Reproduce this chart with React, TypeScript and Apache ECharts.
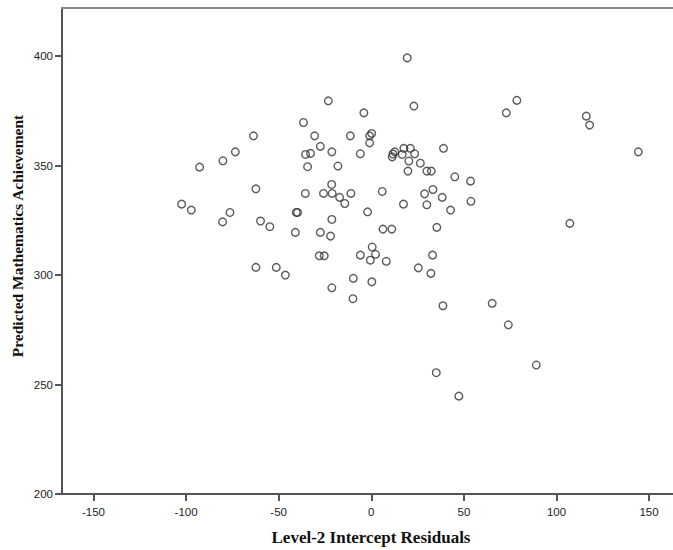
import React, { useEffect, useRef } from "react";
import * as echarts from "echarts";

// Level-2 intercept residuals (x) and predicted mathematics achievement (y)
const residuals: number[] = [
  -23.2, -4.0, -36.6, -63.6, -30.6, -11.3, -0.9, 0.2, -0.9, -27.5,
  -73.4, -35.5, -32.8, -21.3, -5.9, -80.1, -92.7, -34.4, -18.0, -62.3,
  -21.4, -35.6, -25.8, -21.1, -17.1, -11.0, -14.3, -102.4, -97.2, -76.3,
  -40.5, -39.8, -2.0, -80.3, -59.8, -54.8, -21.3, -41.0, -27.5, -22.0,
  -28.1, -25.4, -5.9, 0.5, 2.3, -0.5, -62.3, -51.3, -46.4, -9.7,
  0.3, -21.3, -9.9,
  19.4, 23.0, 72.9, 78.6, 116.1, 117.9, 144.2, 39.0, 11.7, 12.7,
  11.3, 16.7, 17.6, 21.1, 23.4, 20.3, 26.5, 19.8, 30.0, 32.4,
  45.1, 53.6, 5.9, 28.8, 33.3, 38.3, 53.8, 17.4, 30.0, 42.8,
  107.2, 6.3, 11.1, 35.4, 8.1, 33.1, 25.4, 32.2, 38.7, 65.3,
  74.0, 89.1, 35.1, 47.3,
];

const achievement: number[] = [
  379.6, 374.1, 369.7, 363.6, 363.6, 363.6, 363.6, 364.7, 360.4, 358.8,
  356.3, 355.1, 355.6, 356.3, 355.4, 352.2, 349.3, 349.5, 349.8, 339.4,
  341.4, 337.3, 337.3, 337.3, 335.5, 337.3, 332.7, 332.4, 329.7, 328.6,
  328.6, 328.6, 328.9, 324.3, 324.7, 322.1, 325.4, 319.5, 319.5, 317.8,
  308.8, 308.8, 309.1, 312.8, 309.5, 306.8, 303.5, 303.5, 300.0, 298.5,
  296.9, 294.2, 289.2,
  399.2, 377.2, 374.1, 379.8, 372.6, 368.5, 356.3, 357.9, 355.3, 356.3,
  354.0, 355.1, 357.9, 357.9, 355.4, 352.1, 351.1, 347.5, 347.5, 347.5,
  344.9, 342.9, 338.2, 337.1, 339.1, 335.5, 333.7, 332.4, 332.1, 329.7,
  323.6, 321.0, 321.0, 321.8, 306.3, 309.1, 303.3, 300.8, 286.0, 287.1,
  277.3, 258.9, 255.4, 244.7,
];

const xTicks: number[] = [-150, -100, -50, 0, 50, 100, 150];
const yTicks: number[] = [200, 250, 300, 350, 400];

const xTitle = "Level-2 Intercept Residuals";
const yTitle = "Predicted Mathematics Achievement";

export default function App() {
  const ref = useRef<HTMLDivElement>(null);

  useEffect(() => {
    if (!ref.current) return;
    const chart = echarts.init(ref.current, null, { renderer: "svg" });
    const data = residuals.map((x, i) => [x, achievement[i]]);
    const axisColor = "#555555";
    const labelStyle = {
      color: "#222",
      fontFamily: "Liberation Sans, Arial, sans-serif",
      fontSize: 11.5,
    };
    const titleFont = "Liberation Serif, Times New Roman, serif";
    chart.setOption({
      animation: false,
      backgroundColor: "#ffffff",
      grid: {
        left: 62,
        top: 8,
        width: 618,
        bottom: 56,
        containLabel: false,
        outerBoundsMode: "none",
      },
      xAxis: [
        {
          type: "value",
          min: -167,
          max: 166.7,
          axisLine: { show: true, onZero: false, lineStyle: { color: axisColor, width: 2 } },
          axisTick: {
            show: true,
            length: 7,
            customValues: xTicks,
            lineStyle: { color: axisColor, width: 2 },
          },
          axisLabel: { ...labelStyle, margin: 12, customValues: xTicks },
          splitLine: { show: false },
        },
        {
          type: "value",
          position: "top",
          min: -167,
          max: 166.7,
          axisLine: { show: true, onZero: false, lineStyle: { color: "#858585", width: 2 } },
          axisTick: { show: false },
          axisLabel: { show: false },
          splitLine: { show: false },
        },
      ],
      yAxis: {
        type: "value",
        min: 200,
        max: 422,
        axisLine: { show: true, onZero: false, lineStyle: { color: axisColor, width: 2 } },
        axisTick: {
          show: true,
          length: 7,
          customValues: yTicks,
          lineStyle: { color: axisColor, width: 2 },
        },
        axisLabel: { ...labelStyle, margin: 9, customValues: yTicks },
        splitLine: { show: false },
      },
      graphic: [
        {
          type: "text",
          x: 371,
          y: 537,
          style: {
            text: xTitle,
            fill: "#111",
            font: `bold 17px ${titleFont}`,
            textAlign: "center",
            textVerticalAlign: "middle",
          },
        },
        {
          type: "text",
          x: 17,
          y: 236,
          rotation: Math.PI / 2,
          style: {
            text: yTitle,
            fill: "#111",
            font: `bold 15.5px ${titleFont}`,
            textAlign: "center",
            textVerticalAlign: "middle",
          },
        },
      ],
      series: [
        {
          type: "scatter",
          xAxisIndex: 0,
          data,
          symbol: "circle",
          symbolSize: 7.6,
          itemStyle: {
            color: "rgba(0,0,0,0)",
            borderColor: "#333333",
            borderWidth: 1.4,
          },
        },
      ],
    });
    return () => chart.dispose();
  }, []);

  return (
    <div
      ref={ref}
      style={{ position: "fixed", left: 0, top: 0, width: 673, height: 550, background: "#fff" }}
    />
  );
}
